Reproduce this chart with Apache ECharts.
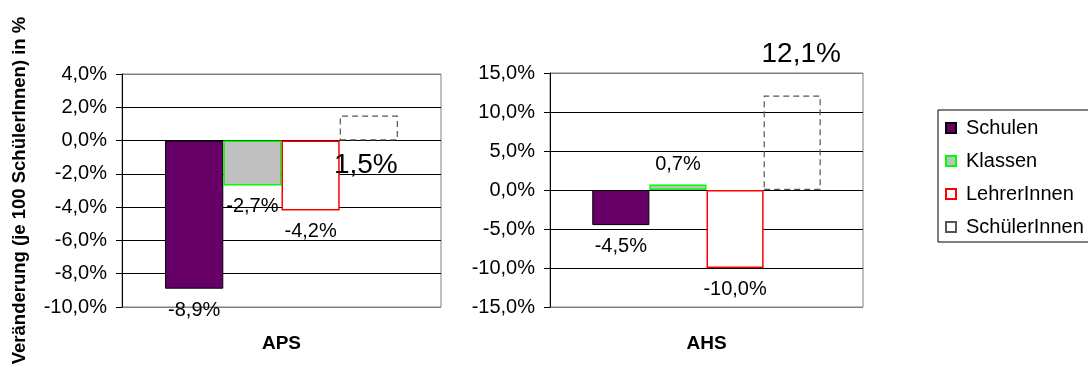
<!DOCTYPE html>
<html>
<head>
<meta charset="utf-8">
<script src="https://cdn.jsdelivr.net/npm/echarts@6/dist/echarts.min.js"></script>
<style>
  html, body { margin: 0; padding: 0; background: #fff; }
  #chart { width: 1088px; height: 379px; }
</style>
</head>
<body>
<div id="chart"></div>
<script>
// Veränderung je 100 SchülerInnen, APS und AHS
const groups = ['APS', 'AHS'];
const seriesNames = ['Schulen', 'Klassen', 'LehrerInnen', 'SchülerInnen'];
const schulen = [-8.9, -4.5];
const klassen = [-2.7, 0.7];
const lehrerInnen = [-4.2, -10.0];
const schuelerInnen = [1.5, 12.1];
const values = [schulen, klassen, lehrerInnen, schuelerInnen];

// y-axis ranges per panel: [min, max, step]
const apsAxis = [-10, 4, 2];
const ahsAxis = [-15, 15, 5];
const axes = [apsAxis, ahsAxis];

const FONT = "'Liberation Sans', Arial, Helvetica, sans-serif";
const fmt = v => v.toFixed(1).replace('.', ',') + '%';

const barStyles = [
  { color: '#660066', borderColor: '#000000', borderWidth: 1 },
  { color: '#C0C0C0', borderColor: '#00FF00', borderWidth: 1.5 },
  { color: '#FFFFFF', borderColor: '#FF0000', borderWidth: 1.5 },
  { color: 'rgba(255,255,255,0)', borderColor: '#555555', borderWidth: 1.2, borderType: [6, 4] }
];

// label placement per panel and series
const labelPlacement = [
  [
    { position: 'bottom', distance: 12 },
    { position: 'bottom', distance: 11 },
    { position: 'bottom', distance: 11 },
    { position: 'bottom', distance: 11, fontSize: 28, offset: [-3, 0] }
  ],
  [
    { position: 'bottom', distance: 11 },
    { position: 'top', distance: 10 },
    { position: 'bottom', distance: 11 },
    { position: 'top', distance: 27, fontSize: 28, offset: [9, 0] }
  ]
];

const grids = [
  { left: 122, top: 74, width: 319, height: 233 },
  { left: 550, top: 73, width: 313, height: 234 }
];

function splitColors(n) {
  const c = [];
  for (let i = 0; i < n; i++) c.push(i === 0 || i === n - 1 ? '#808080' : '#000000');
  return c;
}

const option = {
  animation: false,
  backgroundColor: '#ffffff',
  textStyle: { fontFamily: FONT },
  grid: grids.map(g => Object.assign({
    show: true, borderColor: '#808080', borderWidth: 1, backgroundColor: 'transparent'
  }, g)),
  legend: {
    data: seriesNames,
    orient: 'vertical',
    left: 938,
    top: 110,
    padding: [8, 60, 5, 7],
    itemGap: 13,
    itemWidth: 10,
    itemHeight: 10,
    icon: 'rect',
    borderColor: '#000000',
    borderWidth: 1,
    textStyle: { fontFamily: FONT, fontSize: 20, color: '#000', padding: [0, 0, 0, 5] }
  },
  xAxis: groups.map((g, i) => ({
    type: 'category',
    gridIndex: i,
    data: [g],
    axisLine: { show: false, onZero: false },
    axisTick: { show: false },
    axisLabel: { fontFamily: FONT, fontSize: 19, fontWeight: 'bold', color: '#000', margin: 27 }
  })),
  yAxis: axes.map((a, i) => {
    const n = Math.round((a[1] - a[0]) / a[2]) + 1;
    const ax = {
      type: 'value',
      gridIndex: i,
      min: a[0],
      max: a[1],
      interval: a[2],
      axisLine: { show: true, lineStyle: { color: '#000', width: 1 } },
      axisTick: { show: true, length: 6, lineStyle: { color: '#000' } },
      axisLabel: { fontFamily: FONT, fontSize: 20, color: '#000', margin: 15, formatter: fmt },
      splitLine: { show: true, lineStyle: { color: splitColors(n), width: 1 } }
    };
    if (i === 0) {
      Object.assign(ax, {
        name: 'Veränderung (je 100 SchülerInnen) in %',
        nameLocation: 'middle',
        nameRotate: 90,
        nameGap: 93,
        nameTextStyle: { fontFamily: FONT, fontSize: 18.5, fontWeight: 'bold', color: '#000' }
      });
    }
    return ax;
  }),
  series: []
};

groups.forEach((g, gi) => {
  seriesNames.forEach((name, si) => {
    const lp = labelPlacement[gi][si];
    option.series.push({
      type: 'bar',
      name: name,
      xAxisIndex: gi,
      yAxisIndex: gi,
      data: [values[si][gi]],
      barGap: '0%',
      barCategoryGap: '27%',
      itemStyle: barStyles[si],
      label: {
        show: true,
        position: lp.position,
        distance: lp.distance,
        offset: lp.offset || [0, 0],
        fontFamily: FONT,
        fontSize: lp.fontSize || 20,
        color: '#000',
        formatter: p => fmt(p.value)
      }
    });
  });
});

const chart = echarts.init(document.getElementById('chart'), null, { renderer: 'canvas' });
chart.setOption(option);
</script>
</body>
</html>
